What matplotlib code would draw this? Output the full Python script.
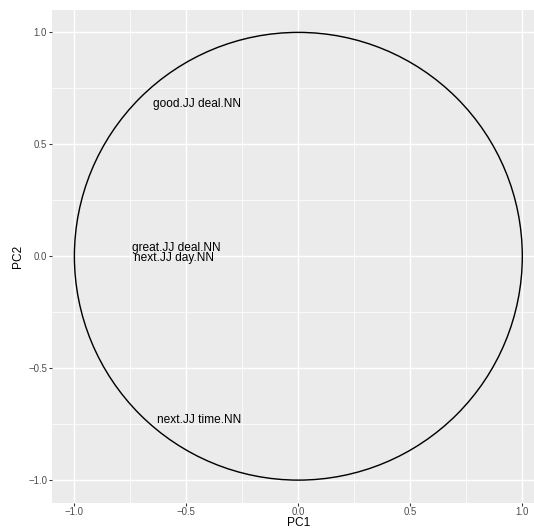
import numpy as np
import matplotlib
matplotlib.use("Agg")
import matplotlib.pyplot as plt
from matplotlib.patches import Circle

# Variable coordinates on the first two principal components
labels = ["good.JJ deal.NN", "great.JJ deal.NN", "next.JJ day.NN", "next.JJ time.NN"]
pc1 = [-0.452, -0.545, -0.557, -0.443]
pc2 = [0.679, 0.039, -0.010, -0.733]

major_ticks = [-1.0, -0.5, 0.0, 0.5, 1.0]
minor_ticks = [-0.75, -0.25, 0.25, 0.75]
tick_labels = ["\u22121.0", "\u22120.5", "0.0", "0.5", "1.0"]

plt.rcParams["font.family"] = ["Liberation Sans", "DejaVu Sans"]

W, H, DPI = 534, 532, 100
fig = plt.figure(figsize=(W / DPI, H / DPI), dpi=DPI)

# panel box in pixels (left, top, right, bottom); it runs past the right edge
L, T, R, B = 52.0, 10.0, 544.7, 502.5
ax = fig.add_axes([L / W, 1 - B / H, (R - L) / W, (B - T) / H])

ax.set_facecolor("#EBEBEB")
for s in ax.spines.values():
    s.set_visible(False)

ax.set_xlim(-1.1, 1.1)
ax.set_ylim(-1.1, 1.1)

ax.set_xticks(major_ticks)
ax.set_yticks(major_ticks)
ax.set_xticks(minor_ticks, minor=True)
ax.set_yticks(minor_ticks, minor=True)
ax.set_xticklabels(tick_labels)
ax.set_yticklabels(tick_labels)

ax.grid(which="major", color="white", linewidth=1.02)
ax.grid(which="minor", color="white", linewidth=0.51)
ax.set_axisbelow(True)

ax.tick_params(which="major", length=1.98, width=0.77, color="#333333",
               labelcolor="#4D4D4D", labelsize=6.9, pad=1.5)
ax.tick_params(which="minor", length=0)

# unit correlation circle
ax.add_patch(Circle((0, 0), 1.0, fill=False, edgecolor="black", linewidth=1.02))

for lab, x, y in zip(labels, pc1, pc2):
    ax.text(x, y, lab, ha="center", va="center", fontsize=8.6, color="black")

ax.set_xlabel("PC1", fontsize=8.6, color="black", va="center")
ax.set_ylabel("PC2", fontsize=8.6, color="black", va="center")
ax.xaxis.set_label_coords((298.4 - L) / (R - L), (B - 523.5) / (B - T))
ax.yaxis.set_label_coords((18.0 - L) / (R - L), 0.5)

fig.savefig("out.png", dpi=DPI, facecolor="white")
